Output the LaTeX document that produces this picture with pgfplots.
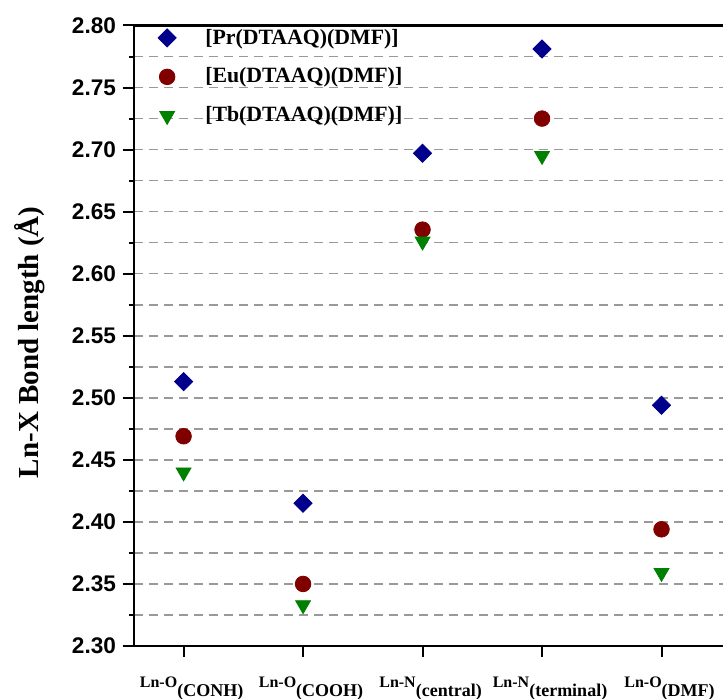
\documentclass[border=0pt]{standalone}
\usepackage{fontspec}
\setmainfont{Liberation Serif}
\setsansfont{Liberation Sans}
\usepackage{pgfplots}
\pgfplotsset{compat=1.18}
\definecolor{prc}{RGB}{0,0,140}
\definecolor{euc}{RGB}{128,0,0}
\definecolor{tbc}{RGB}{0,128,0}
\newcommand{\lab}[2]{\textbf{#1}\raisebox{-4.6pt}{\fontsize{9}{9}\selectfont\textbf{#2}}}
\begin{document}
\begin{tikzpicture}
\begin{axis}[name=ax,
  scale only axis, width=299.6pt, height=310.25pt,
  xmin=-0.415, xmax=4.6, ymin=2.30, ymax=2.80,
  xtick={0,1,2,3,4},
  xticklabels={{\lab{Ln-O}{(CONH)}},{\lab{Ln-O}{(COOH)}},{\lab{Ln-N}{(central)}},{\lab{Ln-N}{(terminal)}},{\lab{Ln-O}{(DMF)}}},
  xticklabel style={font=\rmfamily\fontsize{8}{8}\selectfont, anchor=base, yshift=-15.2pt, xshift=4pt},
  ytick={2.30,2.35,...,2.81},
  minor y tick num=1,
  tick pos=left, tick align=outside,
  major tick length=5.5pt, minor tick length=2.5pt,
  every tick/.style={black, line width=1pt},
  axis line style={line width=1.1pt},
  yticklabel style={font=\sffamily\bfseries\fontsize{11.3}{11.3}\selectfont,
    /pgf/number format/.cd, fixed, fixed zerofill, precision=2, assume math mode=true},
  ymajorgrids, yminorgrids,
  major grid style={gray!80, dash pattern=on 4.5pt off 3pt, line width=0.8pt},
  minor grid style={gray!80, dash pattern=on 4.5pt off 3pt, line width=0.8pt},
  ylabel={\textbf{Ln-X Bond length (Å)}},
  ylabel style={font=\rmfamily\fontsize{14.5}{14.5}\selectfont, at={(axis description cs:-0.1736,0.4895)}, anchor=center},
  legend style={draw=none, fill=none, at={(axis description cs:0,1)}, anchor=north west,
    xshift=2pt, yshift=2.5pt, row sep=6.4pt,
    font=\rmfamily\bfseries\fontsize{10.9}{10.9}\selectfont},
  legend cell align=left,
  legend image code/.code={\path[draw=none,fill=none] (0cm,0cm) -- (1.0cm,0cm); \draw[#1] plot coordinates {(0.4cm,0cm)};},
]
\addplot[only marks, mark=square*, mark size=3.2pt, mark options={rotate=45, draw=prc, fill=prc}]
  coordinates {(0,2.513) (1,2.415) (2,2.697) (3,2.781) (4,2.494)};
\addlegendentry{[Pr(DTAAQ)(DMF)]}
\addplot[only marks, mark=*, mark size=3.9pt, mark options={draw=euc, fill=euc}]
  coordinates {(0,2.469) (1,2.350) (2,2.6355) (3,2.725) (4,2.394)};
\addlegendentry{[Eu(DTAAQ)(DMF)]}
\addplot[only marks, mark=triangle*, mark size=4.3pt, mark options={rotate=180, draw=tbc, fill=tbc}]
  coordinates {(0,2.440) (1,2.333) (2,2.626) (3,2.695) (4,2.359)};
\addlegendentry{[Tb(DTAAQ)(DMF)]}
\end{axis}
\pgfresetboundingbox
\useasboundingbox ([xshift=-67pt, yshift=12.75pt]ax.north west) rectangle ([xshift=294.5pt, yshift=-26.5pt]ax.south west);
\end{tikzpicture}
\end{document}
